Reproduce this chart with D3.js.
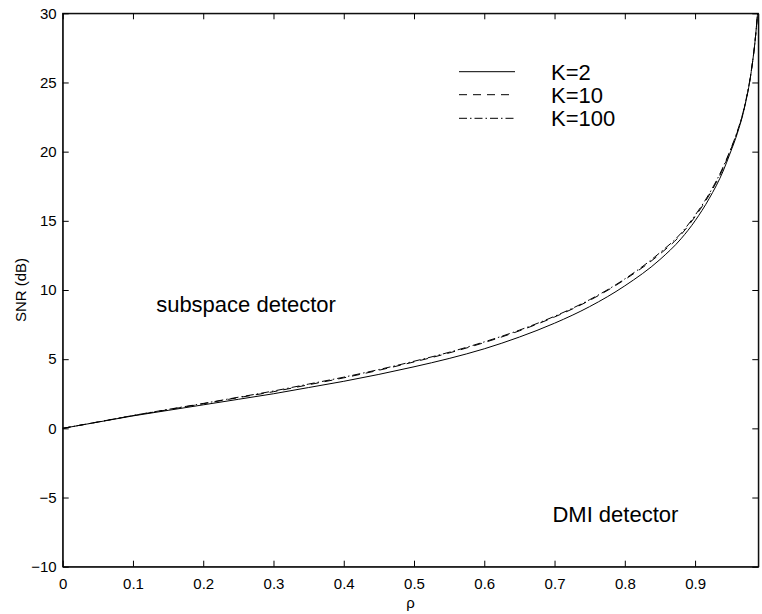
<!DOCTYPE html>
<html>
<head>
<meta charset="utf-8">
<script src="https://cdn.jsdelivr.net/npm/d3@7"></script>
<style>
  body { margin: 0; background: #fff; }
  svg { display: block; font-family: "Liberation Sans", Arial, sans-serif; }
  .tick text { font-size: 15px; fill: #000; }
</style>
</head>
<body>
<script>
// data
const rho     = [0, 0.05, 0.1, 0.15, 0.2, 0.25, 0.3, 0.35, 0.4, 0.45, 0.5, 0.55, 0.6, 0.65, 0.7, 0.75, 0.8, 0.85, 0.88, 0.9, 0.92, 0.94, 0.95, 0.96, 0.97, 0.98, 0.985, 0.99]
const snrK2   = [0, 0.45, 0.9, 1.3, 1.7, 2.1, 2.5, 2.95, 3.4, 3.9, 4.45, 5.05, 5.75, 6.6, 7.6, 8.8, 10.3, 12.2, 13.7, 15.0, 16.6, 18.6, 19.9, 21.3, 23.1, 25.8, 27.8, 30.6]
const snrK10  = [0, 0.46, 0.92, 1.35, 1.78, 2.22, 2.65, 3.15, 3.65, 4.2, 4.8, 5.45, 6.2, 7.05, 8.05, 9.25, 10.75, 12.6, 14.0, 15.3, 16.85, 18.8, 20.05, 21.4, 23.15, 25.8, 27.8, 30.6]
const snrK100 = [0, 0.46, 0.93, 1.37, 1.8, 2.25, 2.7, 3.2, 3.7, 4.25, 4.85, 5.5, 6.25, 7.1, 8.1, 9.3, 10.8, 12.7, 14.1, 15.4, 16.95, 18.9, 20.1, 21.45, 23.2, 25.85, 27.8, 30.6]

const seriesNames = ["K=2", "K=10", "K=100"]
const xTicks = [0, 0.1, 0.2, 0.3, 0.4, 0.5, 0.6, 0.7, 0.8, 0.9]
const yTicks = [-10, -5, 0, 5, 10, 15, 20, 25, 30]

const w = 762
const h = 614
const pLeft = 62.7, pTop = 13.3, pRight = 758.3, pBottom = 566.7

const svg = d3.select("body")
  .append("svg")
  .attr("width", w)
  .attr("height", h)

const xScale = d3.scaleLinear().domain([0, 0.99]).range([pLeft, pRight])
const yScale = d3.scaleLinear().domain([-10, 30]).range([pBottom, pTop])

const fmtY = d => (d < 0 ? "\u2212" + Math.abs(d) : "" + d)

//axes, ticks pointing inward on all four sides
const tickLen = 6
svg.append("g")
  .attr("transform", "translate(0," + pBottom + ")")
  .call(d3.axisBottom(xScale).tickValues(xTicks).tickFormat(d => d3.format("")(d)).tickSizeInner(-tickLen).tickSizeOuter(0).tickPadding(12))
svg.append("g")
  .attr("transform", "translate(0," + pTop + ")")
  .call(d3.axisTop(xScale).tickValues(xTicks).tickFormat("").tickSizeInner(-tickLen).tickSizeOuter(0))
svg.append("g")
  .attr("transform", "translate(" + pLeft + ",0)")
  .call(d3.axisLeft(yScale).tickValues(yTicks).tickFormat(fmtY).tickSizeInner(-tickLen).tickSizeOuter(0).tickPadding(6))
svg.append("g")
  .attr("transform", "translate(" + pRight + ",0)")
  .call(d3.axisRight(yScale).tickValues(yTicks).tickFormat("").tickSizeInner(-tickLen).tickSizeOuter(0))

svg.selectAll(".domain").attr("stroke", "#000")
svg.selectAll(".tick line").attr("stroke", "#000")

//box
svg.append("rect")
  .attr("x", pLeft).attr("y", pTop)
  .attr("width", pRight - pLeft).attr("height", pBottom - pTop)
  .attr("fill", "none").attr("stroke", "#000").attr("stroke-width", 1)

//labels
svg.append("text")
  .attr("x", (pLeft + pRight) / 2)
  .attr("y", 608)
  .attr("text-anchor", "middle")
  .style("font-size", "15px")
  .text("\u03c1")
svg.append("text")
  .attr("transform", "translate(26," + ((pTop + pBottom) / 2) + ") rotate(-90)")
  .attr("text-anchor", "middle")
  .style("font-size", "15px")
  .text("SNR (dB)")

//curves
svg.append("clipPath").attr("id", "plot")
  .append("rect")
  .attr("x", pLeft).attr("y", pTop)
  .attr("width", pRight - pLeft).attr("height", pBottom - pTop)

const line = d3.line()
  .x(d => xScale(d[0]))
  .y(d => yScale(d[1]))
  .curve(d3.curveMonotoneX)

const styles = [
  { dash: null },
  { dash: "8,6" },
  { dash: "8,3,1.5,3" }
]
const allSeries = [snrK2, snrK10, snrK100]

allSeries.forEach((s, i) => {
  svg.append("path")
    .datum(rho.map((r, j) => [r, s[j]]))
    .attr("clip-path", "url(#plot)")
    .attr("d", line)
    .attr("fill", "none")
    .attr("stroke", "#000")
    .attr("stroke-width", 1)
    .attr("stroke-dasharray", styles[i].dash)
})

//legend
const legY = [71.7, 94.7, 118.3]
seriesNames.forEach((name, i) => {
  svg.append("line")
    .attr("x1", 459).attr("x2", 515)
    .attr("y1", legY[i]).attr("y2", legY[i])
    .attr("stroke", "#000")
    .attr("stroke-width", 1)
    .attr("stroke-dasharray", styles[i].dash)
  svg.append("text")
    .attr("x", 551)
    .attr("y", legY[i] + 7.8)
    .style("font-size", "22px")
    .text(name)
})

//annotations
svg.append("text")
  .attr("x", xScale(0.133))
  .attr("y", yScale(8.4))
  .style("font-size", "22px")
  .text("subspace detector")
svg.append("text")
  .attr("x", xScale(0.697))
  .attr("y", yScale(-6.75))
  .style("font-size", "22px")
  .text("DMI detector")
</script>
</body>
</html>
